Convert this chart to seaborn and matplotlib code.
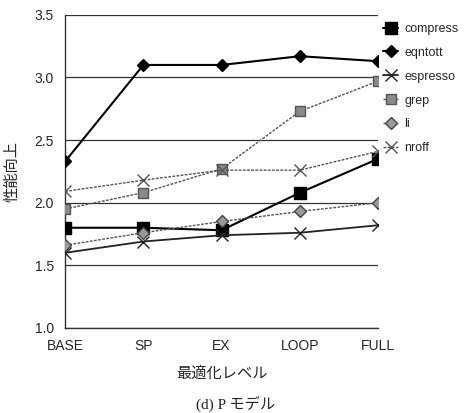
import matplotlib
matplotlib.use("Agg")
import matplotlib.pyplot as plt
import seaborn as sns
import pandas as pd

levels = ["BASE", "SP", "EX", "LOOP", "FULL"]
compress = [1.80, 1.80, 1.78, 2.08, 2.35]
eqntott = [2.33, 3.10, 3.10, 3.17, 3.13]
espresso = [1.60, 1.69, 1.74, 1.76, 1.82]
grep = [1.95, 2.08, 2.27, 2.73, 2.97]
li = [1.66, 1.76, 1.85, 1.93, 2.00]
nroff = [2.09, 2.18, 2.26, 2.26, 2.41]
series_names = ["compress", "eqntott", "espresso", "grep", "li", "nroff"]
series_vals = [compress, eqntott, espresso, grep, li, nroff]
yticks = [1.0, 1.5, 2.0, 2.5, 3.0, 3.5]

sns.set_theme(style="white")
plt.rcParams['font.family'] = ['Liberation Sans', 'Noto Sans CJK JP']

rows = []
for n, vals in zip(series_names, series_vals):
    for i, (lv, v) in enumerate(zip(levels, vals)):
        rows.append({"series": n, "level": lv, "pos": i, "value": v})
df = pd.DataFrame(rows)

styles = {
    "compress": dict(color="black", lw=1.5, ls="-", marker="s", ms=8, mfc="black", mec="black"),
    "eqntott": dict(color="black", lw=1.5, ls="-", marker="D", ms=6, mfc="black", mec="black"),
    "espresso": dict(color="#222222", lw=1.3, ls="-", marker="x", ms=8, mfc="black", mec="#222222"),
    "grep": dict(color="#555555", lw=1.0, ls=(0, (2, 1)), marker="s", ms=7, mfc="#8a8a8a", mec="#555555"),
    "li": dict(color="#555555", lw=1.0, ls=(0, (2, 1)), marker="D", ms=6, mfc="#9a9a9a", mec="#444444"),
    "nroff": dict(color="#555555", lw=1.0, ls=(0, (2, 1)), marker="x", ms=8, mfc="#555555", mec="#555555"),
}

fig = plt.figure(figsize=(4.72, 4.13), dpi=100)
ax = fig.add_axes([0.138, 0.206, 0.663, 0.758])

for n in series_names:
    st = styles[n]
    sub = df[df.series == n]
    sns.lineplot(data=sub, x="pos", y="value", ax=ax, label=n,
                 color=st["color"], linewidth=st["lw"], linestyle=st["ls"],
                 marker=st["marker"], markersize=st["ms"], markerfacecolor=st["mfc"],
                 markeredgecolor=st["mec"], markeredgewidth=1.0, zorder=3)

ax.set_xlim(0, len(levels) - 1)
ax.set_ylim(1.0, 3.5)
ax.set_xticks(range(len(levels)))
ax.set_xticklabels(levels, fontsize=10)
ax.set_yticks(yticks)
ax.set_yticklabels([f"{t:.1f}" for t in yticks], fontsize=10)
ax.yaxis.grid(True, color="#333333", linewidth=0.9)
ax.xaxis.grid(False)
for s in ["top", "right"]:
    ax.spines[s].set_visible(False)
for s in ["left", "bottom"]:
    ax.spines[s].set_color("#333333")
    ax.spines[s].set_linewidth(1.0)
ax.tick_params(axis="x", direction="in", length=4, color="#333333", pad=8)
ax.tick_params(axis="y", length=0, pad=8)
ax.set_xlabel("最適化レベル", fontsize=11, labelpad=10)
ax.set_ylabel("性能向上", fontsize=11, labelpad=11)

ax.legend(loc="upper left", bbox_to_anchor=(1.0, 0.99), frameon=False,
          fontsize=9, handlelength=1.2, handletextpad=0.5, labelspacing=0.95,
          borderaxespad=0.2, borderpad=0.2)

fig.text(0.5, 0.01, "(d) P モデル", ha="center", fontsize=11,
         family=["Liberation Serif", "Noto Sans CJK JP"])

fig.savefig("out.png", dpi=100)
